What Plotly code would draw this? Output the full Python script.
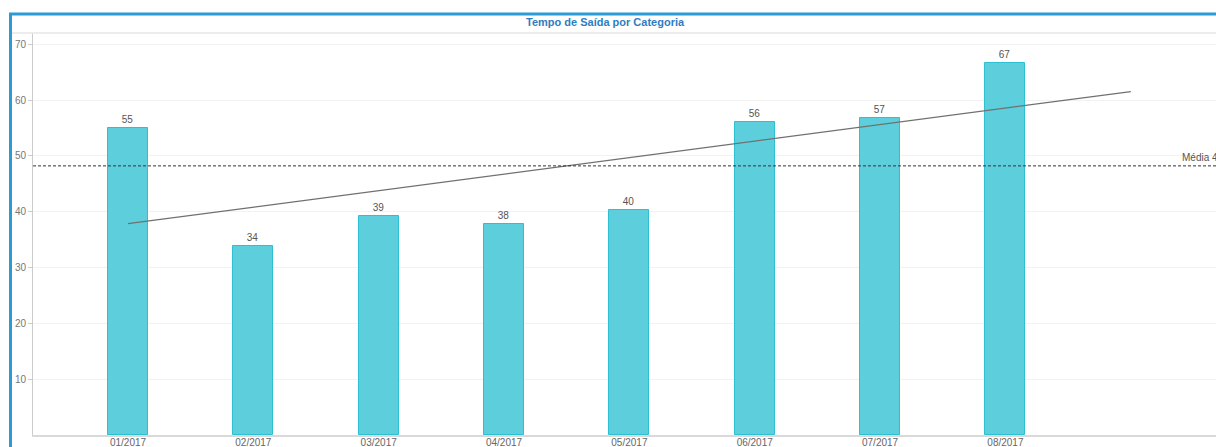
import numpy as np
import plotly.graph_objects as go

categories = ["01/2017", "02/2017", "03/2017", "04/2017", "05/2017", "06/2017", "07/2017", "08/2017"]
values = [55.0, 33.9, 39.2, 37.8, 40.3, 56.1, 56.7, 66.6]
y_ticks = [10, 20, 30, 40, 50, 60, 70]

W, H = 1216, 447
L, R, T, B = 33, 0, 33, 12
pw, ph = W - L - R, H - T - B

def px(x):
    return (x - L) / pw

def py(y):
    return (H - B - y) / ph

xs = list(range(len(categories)))
mean_v = float(np.mean(values))
slope, intercept = np.polyfit(xs, values, 1)
trend_x = [0, len(categories)]
trend_y = [intercept + slope * t for t in trend_x]

fig = go.Figure()
fig.add_trace(go.Bar(
    x=xs, y=values, width=0.32,
    marker=dict(color="#5dcfdc", line=dict(color="#2cc0d2", width=1)),
    text=[f"{v:.0f}" for v in values], textposition="outside",
    textfont=dict(family="Liberation Sans, Arial", size=10, color="#555"),
    cliponaxis=False, showlegend=False,
))
fig.add_trace(go.Scatter(
    x=trend_x, y=trend_y, mode="lines",
    line=dict(color="#707070", width=1.2), showlegend=False, hoverinfo="skip",
))

fig.add_shape(type="line", xref="paper", yref="y", x0=0, x1=1.05, y0=mean_v, y1=mean_v,
              line=dict(color="#333", width=1, dash="3px,2px"))
fig.add_annotation(xref="paper", yref="y", x=px(1180), y=mean_v, yshift=8,
                   xanchor="left", yanchor="middle", showarrow=False,
                   text=f"Média {mean_v:.0f}",
                   font=dict(family="Liberation Sans, Arial", size=10, color="#555"))

# title bar separator
fig.add_shape(type="line", xref="paper", yref="paper", x0=px(10), x1=px(1230), y0=py(33), y1=py(33),
              line=dict(color="#e6e6e6", width=1.5))
# blue frame
fig.add_shape(type="path", xref="paper", yref="paper",
              path=f"M {px(10.5)} {py(460)} L {px(10.5)} {py(14)} L {px(1240)} {py(14)}",
              line=dict(color="#2b9ad5", width=3))

fig.add_annotation(xref="paper", yref="paper", x=px(605), y=py(22), xanchor="center", yanchor="middle",
                   showarrow=False, text="<b>Tempo de Saída por Categoria</b>",
                   font=dict(family="Liberation Sans, Arial", size=11, color="#2f7dbf"))

fig.update_layout(
    width=W, height=H,
    margin=dict(l=L, r=R, t=T, b=B, pad=0, autoexpand=False),
    paper_bgcolor="white", plot_bgcolor="white",
    bargap=0,
)
fig.update_xaxes(
    range=[-0.758, 8.68], tickvals=xs, ticktext=categories, automargin=False,
    showgrid=False, zeroline=False, showline=True, linecolor="#d9d9d9", linewidth=1.5,
    ticks="", ticklabelstandoff=-3,
    tickfont=dict(family="Liberation Sans, Arial", size=10, color="#666"),
)
fig.update_yaxes(
    range=[0, 72], tickvals=y_ticks, showgrid=True, gridcolor="#f2f2f2", gridwidth=1,
    zeroline=False, showline=True, linecolor="#cccccc", linewidth=1, automargin=False,
    ticks="outside", ticklen=4, tickcolor="#cccccc",
    tickfont=dict(family="Liberation Sans, Arial", size=10, color="#777"),
)

fig.write_html("out.html")
